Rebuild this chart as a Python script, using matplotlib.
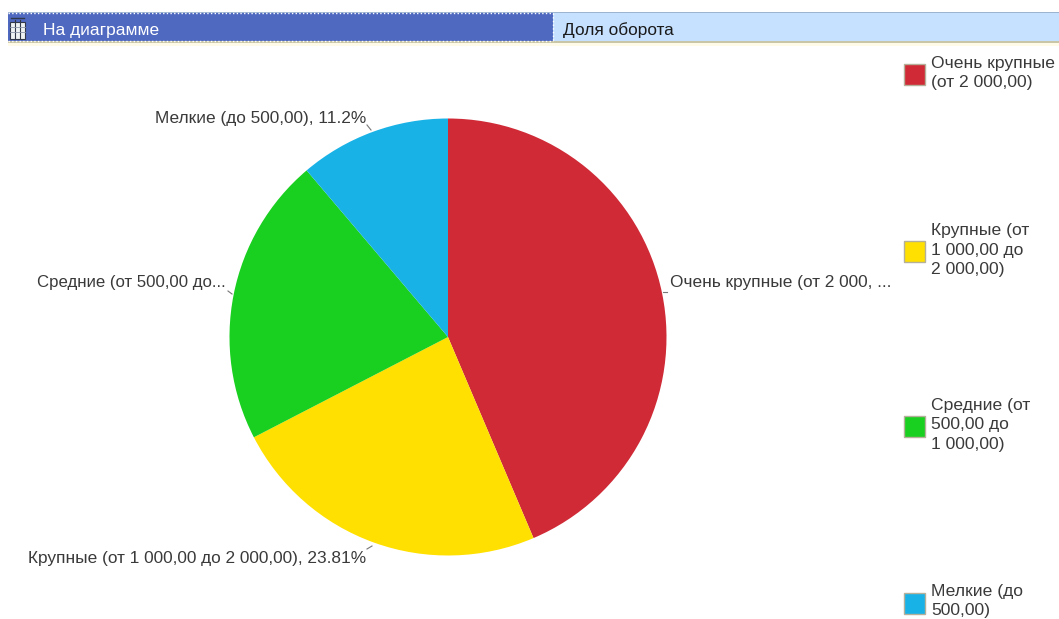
import matplotlib
matplotlib.use('Agg')
import matplotlib.pyplot as plt
from matplotlib.patches import Rectangle

plt.rcParams['font.family'] = ['Liberation Sans', 'DejaVu Sans']

W, H = 1059, 619

# data
categories = ['Очень крупные (от 2 000,00)', 'Крупные (от 1 000,00 до 2 000,00)',
              'Средние (от 500,00 до 1 000,00)', 'Мелкие (до 500,00)']
shares = [43.6, 23.81, 21.39, 11.2]
colors = ['#cf2a36', '#ffe000', '#19cf1f', '#19b2e6']
slice_labels = ['Очень крупные (от 2 000, ...', 'Крупные (от 1 000,00 до 2 000,00), 23.81%',
                'Средние (от 500,00 до...', 'Мелкие (до 500,00), 11.2%']
legend_labels = ['Очень крупные\n(от 2 000,00)', 'Крупные (от\n1 000,00 до\n2 000,00)',
                 'Средние (от\n500,00 до\n1 000,00)', 'Мелкие (до\n500,00)']
header_labels = ['На диаграмме', 'Доля оборота']

fig = plt.figure(figsize=(W / 100, H / 100), dpi=100)

# overlay in pixel coords, y down
bg = fig.add_axes([0, 0, 1, 1])
bg.set_xlim(0, W)
bg.set_ylim(H, 0)
bg.axis('off')

# header strip
bg.add_patch(Rectangle((8, 12), W - 8, 30, fc='#c6e1ff', ec='none'))
bg.add_patch(Rectangle((8, 12), W - 8, 1, fc='#9db4d0', ec='none'))
bg.add_patch(Rectangle((8, 41), W - 8, 2, fc='#c9c6a8', ec='none'))
bg.add_patch(Rectangle((8, 43), W - 8, 3, fc='#fffbe8', ec='none'))
bg.add_patch(Rectangle((8, 13), 545, 28, fc='#5069c0', ec='none'))
bg.plot([8, 553], [13, 13], color='white', lw=1, ls=':')
bg.plot([8, 553], [40.5, 40.5], color='white', lw=1, ls=':')
bg.plot([553, 553], [13, 41], color='white', lw=1, ls=':')
# small table icon
bg.add_patch(Rectangle((10, 22), 15, 17, fc='#eef2f2', ec='#30384a', lw=0.8))
for x in (15, 20):
    bg.plot([x, x], [20, 39], color='#30384a', lw=0.8)
for y in (27, 32):
    bg.plot([10, 25], [y, y], color='#8a94a8', lw=0.6)
bg.plot([11, 24], [18, 18], color='#30384a', lw=1)
bg.text(43, 30, header_labels[0], color='white', fontsize=12.5, va='center')
bg.text(563, 30, header_labels[1], color='#1a1a1a', fontsize=12.4, va='center')

# pie, axes box = pie circle
R = 218.5
cx, cy = 448, 337
ax = fig.add_axes([(cx - R) / W, 1 - (cy + R) / H, 2 * R / W, 2 * R / H])
ax.pie(shares, colors=colors, startangle=90, counterclock=False, radius=1,
       wedgeprops={'linewidth': 0})
ax.set_xlim(-1, 1)
ax.set_ylim(-1, 1)

# slice labels
label_pos = [(670, 282, 'left'), (366, 558, 'right'), (226, 282, 'right'), (366, 118, 'right')]
label_size = [12.4, 12.4, 12.1, 12.4]
ticks = [((663, 292), (667, 292)), ((367, 549), (372, 546)),
         ((228, 291), (232, 294)), ((367, 125), (371, 130))]
for text, (x, y, ha), fs, (a, b) in zip(slice_labels, label_pos, label_size, ticks):
    bg.text(x, y, text, fontsize=fs, color='#3a3a3a', ha=ha, va='center')
    bg.plot([a[0], b[0]], [a[1], b[1]], color='#777777', lw=0.8)

# legend
legend_y = [74, 251, 426, 603]
text_y = [73, 250, 425, 601]
for lab, col, y, ty in zip(legend_labels, colors, legend_y, text_y):
    bg.add_patch(Rectangle((904, y - 10), 21, 21, fc=col, ec='#b5b09a', lw=1))
    bg.text(931, ty, lab, fontsize=12.6, color='#3a3a3a', va='center', linespacing=1.37)

fig.savefig('out.png', dpi=100)
